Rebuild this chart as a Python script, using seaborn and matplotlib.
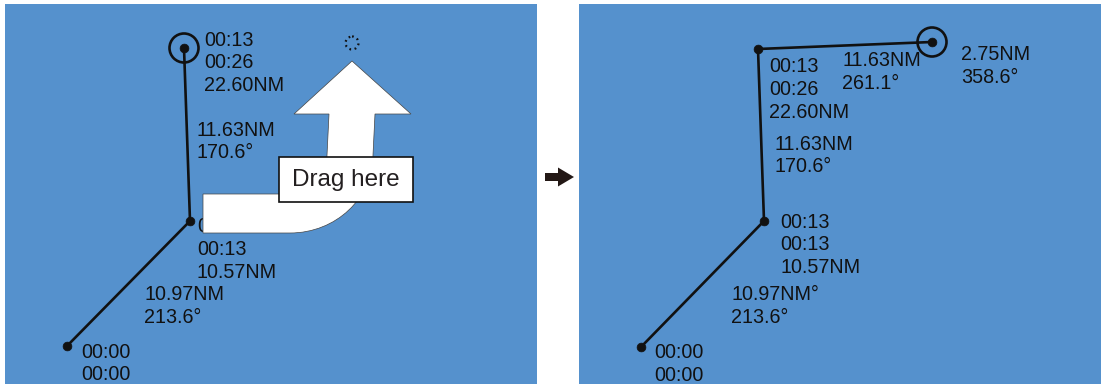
import matplotlib
matplotlib.use("Agg")
import matplotlib.pyplot as plt
import matplotlib.patches as mpatches
from matplotlib.path import Path
import pandas as pd
import seaborn as sns

# route points (screen units, y grows downward) for the two panels
before_x = [67, 190, 184]
before_y = [346, 221, 48]
after_x = [641, 764, 758, 932]
after_y = [347, 221, 49, 42]

# label blocks: (x, y_top, text)
before_labels = [
    (204, 31, "00:13\n00:26\n22.60NM"),
    (197, 121, "11.63NM\n170.6°"),
    (197, 218, "00:13\n00:13\n10.57NM"),
    (144, 286, "10.97NM\n213.6°"),
    (81, 343, "00:00\n00:00"),
]
after_labels = [
    (769, 58, "00:13\n00:26\n22.60NM"),
    (842, 52, "11.63NM\n261.1°"),
    (961, 46, "2.75NM\n358.6°"),
    (775, 135, "11.63NM\n170.6°"),
    (780, 213, "00:13\n00:13\n10.57NM"),
    (731, 286, "10.97NM°\n213.6°"),
    (654, 344, "00:00\n00:00"),
]

BLUE = "#5591cd"
INK = "#111111"

sns.set_theme(style="white")
plt.rcParams["font.family"] = ["Liberation Sans", "DejaVu Sans"]

W, H = 1104, 385
fig = plt.figure(figsize=(W / 100, H / 100), dpi=100)

# background axes in pixel units for the arrow between panels
bg = fig.add_axes([0, 0, 1, 1])
bg.set_xlim(0, W)
bg.set_ylim(H, 0)
bg.axis("off")
bg.add_patch(mpatches.FancyArrow(545, 177, 29, 0, width=8, head_width=19,
                                 head_length=16, length_includes_head=True,
                                 color="#231815", lw=0))


def make_panel(x0, x1, y0=4, y1=384):
    ax = fig.add_axes([x0 / W, 1 - y1 / H, (x1 - x0) / W, (y1 - y0) / H])
    ax.set_facecolor(BLUE)
    ax.set_xlim(x0, x1)
    ax.set_ylim(y1, y0)
    ax.set(xticks=[], yticks=[])
    sns.despine(ax=ax, left=True, bottom=True)
    return ax


def draw_route(ax, xs, ys, labels):
    df = pd.DataFrame({"x": xs, "y": ys})
    sns.lineplot(data=df, x="x", y="y", sort=False, color=INK, lw=1.9,
                 ax=ax, estimator=None)
    sns.scatterplot(data=df, x="x", y="y", color=INK, s=40, edgecolor=INK,
                    ax=ax, zorder=3)
    ax.add_patch(mpatches.Circle((xs[-1], ys[-1]), 14.5, fill=False,
                                 ec=INK, lw=1.9, zorder=3))
    for x, y, t in labels:
        ax.text(x, y - 0.5, t, ha="left", va="top", fontsize=14.2,
                color=INK, linespacing=1.26, zorder=3)
    ax.set(xlabel="", ylabel="")


left = make_panel(5, 537)
draw_route(left, before_x, before_y, before_labels)

right = make_panel(579, 1101)
draw_route(right, after_x, after_y, after_labels)

# curved "drag" arrow on the left panel
verts = [
    (203, 194), (290, 194),
    (310, 194), (327, 177), (327, 155),
    (329, 114), (294, 114), (352, 61), (411, 114), (375, 114),
    (373, 155),
    (373, 198), (336, 233), (290, 233),
    (203, 233), (203, 194),
]
codes = [
    Path.MOVETO, Path.LINETO,
    Path.CURVE4, Path.CURVE4, Path.CURVE4,
    Path.LINETO, Path.LINETO, Path.LINETO, Path.LINETO, Path.LINETO,
    Path.LINETO,
    Path.CURVE4, Path.CURVE4, Path.CURVE4,
    Path.LINETO, Path.CLOSEPOLY,
]
left.add_patch(mpatches.PathPatch(Path(verts, codes), fc="white",
                                  ec="#444444", lw=0.5, zorder=4))

# dotted target marker
left.add_patch(mpatches.Circle((352, 43), 6.5, fill=False, ec=INK, lw=1.6,
                               ls=(0, (0.8, 1.6)), zorder=4))

left.add_patch(mpatches.Rectangle((279, 157), 134, 45, fc="white", ec=INK,
                                  lw=1.2, zorder=5))
left.text(346, 180, "Drag here", ha="center", va="center", fontsize=17.5,
          color="#231f20", zorder=6)

fig.savefig("out.png", dpi=100)
